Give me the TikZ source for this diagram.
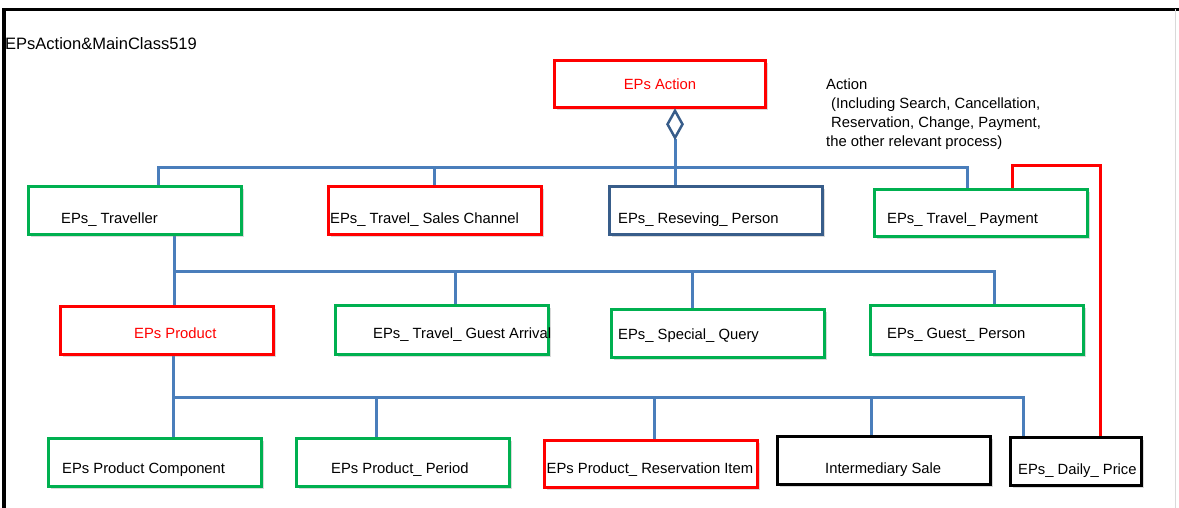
\documentclass[tikz,border=0pt]{standalone}
\usepackage{fontspec}
\setmainfont{Liberation Sans}
\usetikzlibrary{shapes.geometric,shadows,backgrounds}
\definecolor{epgreen}{RGB}{0,176,80}
\definecolor{epred}{RGB}{255,0,0}
\definecolor{epblue}{RGB}{74,126,187}
\definecolor{epnavy}{RGB}{56,93,138}
\begin{document}
\begin{tikzpicture}[x=1pt,y=-1pt,font=\fontsize{14.8}{19}\selectfont]

% Style for boxes and texts
\tikzstyle{cls}=[rectangle,draw,line width=3pt,fill=white,inner sep=0pt,minimum width=213pt,minimum height=48pt,drop shadow={shadow xshift=2.5pt,shadow yshift=-2.5pt,opacity=0.3}]
\tikzstyle{txt}=[anchor=base west,inner sep=0pt]
\tikzstyle{agg}=[diamond,draw=epnavy,line width=2.5pt,fill=white,inner sep=0pt,minimum width=16pt,minimum height=28pt]
% Style for connectors
\tikzstyle{link}=[epblue,line width=3pt]
\tikzstyle{redline}=[epred,line width=3pt]

\useasboundingbox (0,0) rectangle (1179,508);
% Frame
\draw[line width=3.5pt] (4,508) -- (4,9.5) -- (1179,9.5);
\draw[black!15,line width=1pt] (1175,9.5) -- (1175,508);
\node[txt,font=\fontsize{16.5}{19}\selectfont] (title) at (5,50) {EPsAction\&MainClass519};

% The boxes
\node[cls,draw=epred,text=epred,minimum width=211pt,minimum height=47pt] (act) at (660,84) {EPs Action};
\node[agg,anchor=north] (dia) at ([xshift=15pt]act.south) {};
\node[anchor=north west,inner sep=0pt,align=left] (note) at (826,78.5) {Action\\\hspace*{5pt}(Including Search, Cancellation,\\\hspace*{5pt}Reservation, Change, Payment,\\the other relevant process)};

\node[cls,draw=epgreen] (trav) at (135,210.5) {};
\node[cls,draw=epred] (sales) at (434.5,210.5) {};
\node[cls,draw=epnavy,minimum width=213.5pt] (resv) at (716,210.5) {};
\node[cls,draw=epgreen,minimum height=47pt] (pay) at (980.5,213) {};

\node[cls,draw=epred,minimum width=213.5pt] (prod) at (167,330.5) {};
\node[cls,draw=epgreen,minimum height=49pt] (arr) at (441.5,330) {};
\node[cls,draw=epgreen] (query) at (718,333.5) {};
\node[cls,draw=epgreen,minimum height=49pt] (guest) at (977,330) {};

\node[cls,draw=epgreen] (comp) at (154.5,462.5) {};
\node[cls,draw=epgreen] (period) at (403,462.5) {};
\node[cls,draw=epred,minimum height=47pt] (item) at (651,464) {};
\node[cls,draw=black] (inter) at (883.5,460.5) {};
\node[cls,draw=black,minimum width=131pt] (daily) at (1075.6,461.5) {};

% Texts in the boxes
\node[txt] (travT) at (61,224) {EPs\_ Traveller};
\node[txt] (salesT) at (330,223) {EPs\_ Travel\_ Sales Channel};
\node[txt] (resvT) at (618,223) {EPs\_ Reseving\_ Person};
\node[txt] (payT) at (887,224) {EPs\_ Travel\_ Payment};
\node[txt,text=epred] (prodT) at (134,338) {EPs Product};
\node[txt] (arrT) at (373,338) {EPs\_ Travel\_ Guest Arrival};
\node[txt] (queryT) at (618,339) {EPs\_ Special\_ Query};
\node[txt] (guestT) at (887,338) {EPs\_ Guest\_ Person};
\node[txt] (compT) at (62,473) {EPs Product Component};
\node[txt] (periodT) at (331,473) {EPs Product\_ Period};
\node[txt] (itemT) at (546.5,473) {EPs Product\_ Reservation Item};
\node[txt] (interT) at (825,473) {Intermediary Sale};
\node[txt] (dailyT) at (1018,474) {EPs\_ Daily\_ Price};

% The connectors
\begin{scope}[on background layer]
\coordinate (bus1) at (675,168);
\coordinate (t1) at ([xshift=23pt]trav.north);
\coordinate (p1) at ([xshift=-13.5pt]pay.north);
\draw[link] (dia.south) -- (dia.south |- resv.north);
\draw[link] (t1) |- (bus1) -| (p1);
\draw[link] (sales.north) -- (sales.north |- bus1);

\coordinate (bus2) at (600,271);
\coordinate (t2) at ([xshift=39pt]trav.south);
\coordinate (g2) at ([xshift=17pt]guest.north);
\coordinate (a2) at ([xshift=13.5pt]arr.north);
\coordinate (q2) at ([xshift=-26pt]query.north);
\draw[link] (t2) -- (t2 |- prod.north);
\draw[link] (t2 |- bus2) -| (g2);
\draw[link] (a2) -- (a2 |- bus2);
\draw[link] (q2) -- (q2 |- bus2);

\coordinate (bus3) at (600,397);
\coordinate (t3) at ([xshift=6pt]prod.south);
\coordinate (d3) at ([xshift=-52.6pt]daily.north);
\coordinate (e3) at ([xshift=-27pt]period.north);
\coordinate (i3) at ([xshift=3pt]item.north);
\coordinate (s3) at ([xshift=-12.5pt]inter.north);
\draw[link] (t3) -- (t3 |- comp.north);
\draw[link] (t3 |- bus3) -| (d3);
\draw[link] (e3) -- (e3 |- bus3);
\draw[link] (i3) -- (i3 |- bus3);
\draw[link] (s3) -- (s3 |- bus3);

\coordinate (r1) at ([xshift=31.5pt]pay.north);
\coordinate (r2) at ([xshift=24.4pt]daily.north);
\coordinate (rc) at (1100,166);
\draw[redline] (r1) |- (rc) -- (r2);
\end{scope}
\end{tikzpicture}
\end{document}
